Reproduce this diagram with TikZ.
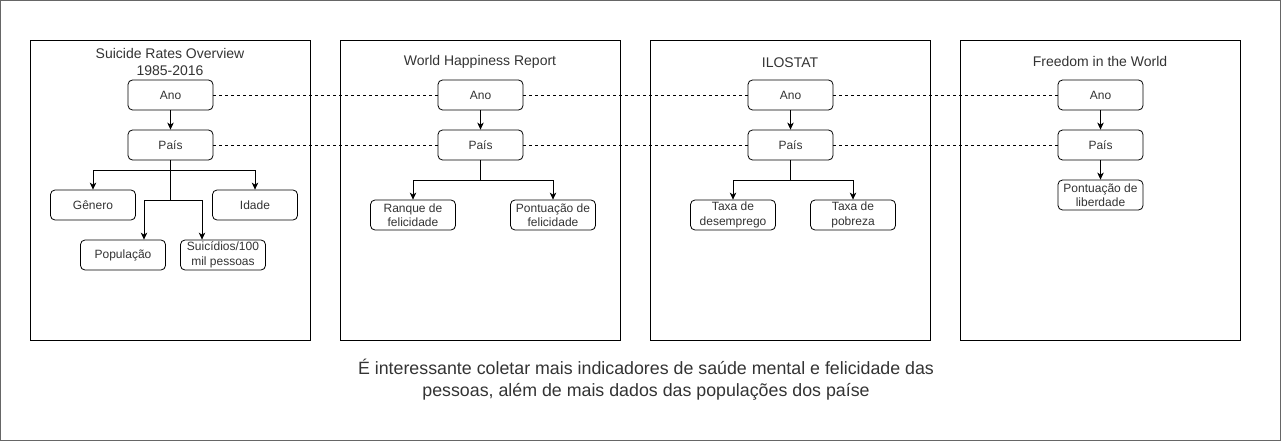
\documentclass[tikz,border=0pt]{standalone}
\usepackage{fontspec}
\setmainfont{Liberation Sans}
\usetikzlibrary{arrows.meta,calc}
\definecolor{txtgray}{HTML}{333333}
\begin{document}
\begin{tikzpicture}[x=1pt,y=-1pt,
  panel/.style={draw=black,line width=0.8pt},
  field/.style={draw=black,line width=0.8pt,rounded corners=4.5pt,minimum width=85pt,minimum height=30pt,inner sep=0pt,align=center,font=\fontsize{12}{14.5}\selectfont,text=txtgray},
  ptitle/.style={align=center,font=\fontsize{14}{17}\selectfont,text=txtgray,inner sep=0pt},
  arr/.style={draw=black,line width=0.8pt,-{Stealth[length=7pt,width=6.5pt,inset=2pt]}},
  link/.style={draw=black,line width=0.8pt,dash pattern=on 3pt off 3pt}]
\useasboundingbox (0,0) rectangle (1281,441);
\draw[draw=gray!80!black,line width=0.8pt] (0.5,0.5) rectangle (1280.5,440.5);
% panels
\draw[panel] (30,40) rectangle (310,340);
\draw[panel] (340,40) rectangle (620,340);
\draw[panel] (650,40) rectangle (930,340);
\draw[panel] (960,40) rectangle (1240,340);
% titles
\node[ptitle] (t1) at (170,61.5) {Suicide Rates Overview\\1985-2016};
\node[ptitle] (t2) at (480,61.5) {World Happiness Report};
\node[ptitle] (t3) at (790,63) {ILOSTAT};
\node[ptitle] (t4) at (1100,61.5) {Freedom in the World};
% panel 1
\node[field] (ano1) at (170.5,95) {Ano};
\node[field] (pais1) at (170.5,145) {País};
\node[field] (gen) at (93,205) {Gênero};
\node[field] (ida) at (255,205) {Idade};
\node[field] (pop) at (123,255) {População};
\node[field] (sui) at (223,255) {Suicídios/100\\mil pessoas};
% panel 2
\node[field] (ano2) at (480.5,95) {Ano};
\node[field] (pais2) at (480.5,145) {País};
\node[field] (ran) at (413,215) {Ranque de\\felicidade};
\node[field] (pfel) at (553,215) {Pontuação de\\felicidade};
% panel 3
\node[field] (ano3) at (790.5,95) {Ano};
\node[field] (pais3) at (790.5,145) {País};
\node[field] (des) at (733,215) {Taxa de\\desemprego};
\node[field] (pob) at (853,215) {Taxa de\\pobreza};
% panel 4
\node[field] (ano4) at (1100.5,95) {Ano};
\node[field] (pais4) at (1100.5,145) {País};
\node[field] (lib) at (1100.5,195) {Pontuação de\\liberdade};
% arrows
\draw[arr] (ano1) -- (pais1);
\draw[arr] (ano2) -- (pais2);
\draw[arr] (ano3) -- (pais3);
\draw[arr] (ano4) -- (pais4);
\draw[arr] (pais4) -- (lib);
\draw[arr] (pais1.south) -- ++(0,10) -| (gen.north);
\draw[arr] (pais1.south) -- ++(0,10) -| (ida.north);
\draw[arr] (pais1.south) -- ++(0,40) -| ($(pop.north)+(21,0)$);
\draw[arr] (pais1.south) -- ++(0,40) -| ($(sui.north)+(-21,0)$);
\draw[arr] (pais2.south) -- ++(0,20) -| (ran.north);
\draw[arr] (pais2.south) -- ++(0,20) -| (pfel.north);
\draw[arr] (pais3.south) -- ++(0,20) -| (des.north);
\draw[arr] (pais3.south) -- ++(0,20) -| (pob.north);
% dashed links
\draw[link] (ano1) -- (ano2);
\draw[link] (ano2) -- (ano3);
\draw[link] (ano3) -- (ano4);
\draw[link] (pais1) -- (pais2);
\draw[link] (pais2) -- (pais3);
\draw[link] (pais3) -- (pais4);
% note
\node[align=center,font=\fontsize{17.8}{22}\selectfont,text=txtgray,inner sep=0pt] (note) at (646,380) {É interessante coletar mais indicadores de saúde mental e felicidade das\\pessoas, além de mais dados das populações dos paíse};
\end{tikzpicture}
\end{document}
